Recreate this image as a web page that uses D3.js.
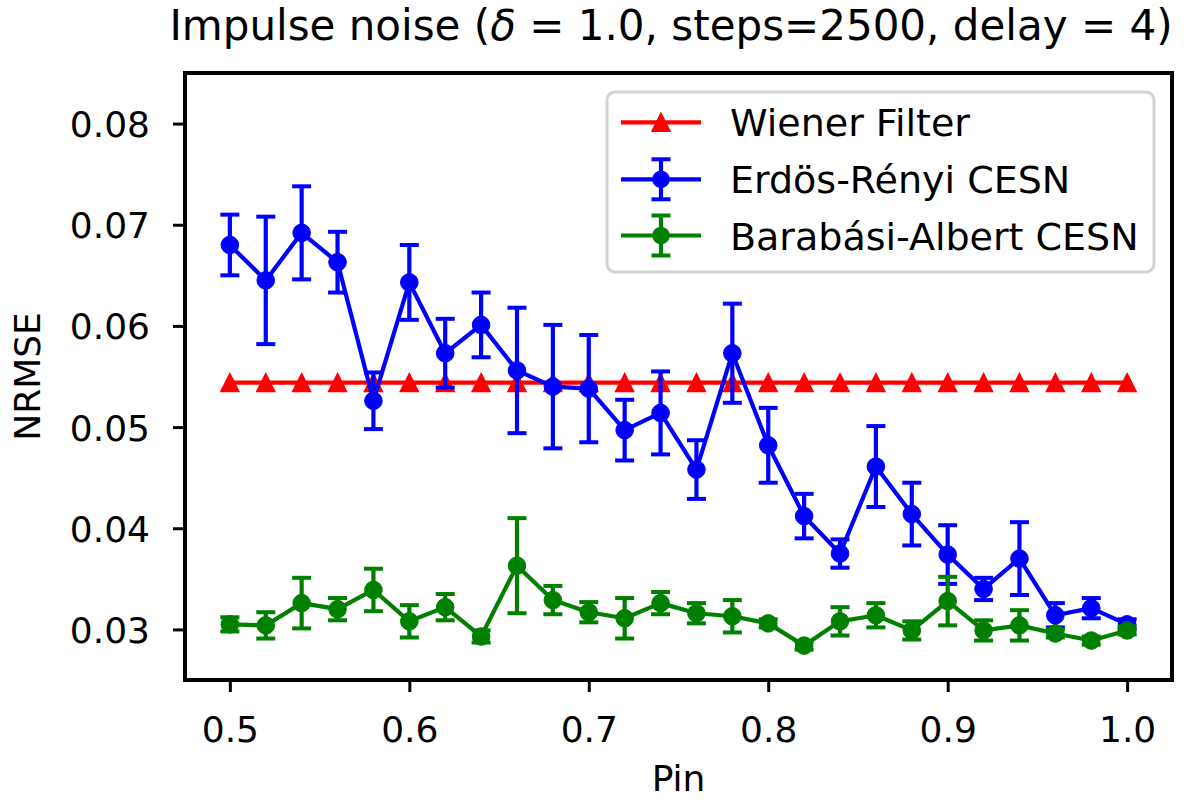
<!DOCTYPE html>
<html>
<head>
<meta charset="utf-8">
<script src="https://cdn.jsdelivr.net/npm/d3@7"></script>
<style>
  html, body { margin: 0; padding: 0; background: #ffffff; }
  svg text { font-family: "DejaVu Sans", sans-serif; }
</style>
</head>
<body>
<svg id="chart" width="1195" height="800"></svg>
<script>
// ---------- DATA ----------
const pins = [0.50, 0.52, 0.54, 0.56, 0.58, 0.60, 0.62, 0.64, 0.66, 0.68,
              0.70, 0.72, 0.74, 0.76, 0.78, 0.80, 0.82, 0.84, 0.86, 0.88,
              0.90, 0.92, 0.94, 0.96, 0.98, 1.00];

const wienerValues = [0.0544, 0.0544, 0.0544, 0.0544, 0.0544, 0.0544, 0.0544, 0.0544, 0.0544, 0.0544,
                      0.0544, 0.0544, 0.0544, 0.0544, 0.0544, 0.0544, 0.0544, 0.0544, 0.0544, 0.0544,
                      0.0544, 0.0544, 0.0544, 0.0544, 0.0544, 0.0544];

const erValues = [0.0680, 0.0645, 0.0692, 0.0663, 0.0526, 0.0643, 0.0573, 0.0601, 0.0556, 0.0540,
                  0.0538, 0.0497, 0.0514, 0.0458, 0.0573, 0.0482, 0.0412, 0.0375, 0.0461, 0.0414,
                  0.0374, 0.0340, 0.0370, 0.0314, 0.0321, 0.0305];
const erErrors = [0.0030, 0.0063, 0.0046, 0.0030, 0.0028, 0.0037, 0.0034, 0.0032, 0.0062, 0.0061,
                  0.0053, 0.0030, 0.0041, 0.0029, 0.0049, 0.0037, 0.0022, 0.0014, 0.0040, 0.0031,
                  0.0029, 0.0011, 0.0036, 0.0012, 0.0010, 0.0005];

const baValues = [0.0305, 0.0304, 0.0326, 0.0320, 0.0339, 0.0308, 0.0322, 0.0293, 0.0363, 0.0329,
                  0.0317, 0.0311, 0.0326, 0.0316, 0.0313, 0.0306, 0.0284, 0.0308, 0.0314, 0.0299,
                  0.0328, 0.0299, 0.0304, 0.0296, 0.0289, 0.0299];
const baErrors = [0.0007, 0.0013, 0.0025, 0.0011, 0.0021, 0.0016, 0.0013, 0.0006, 0.0047, 0.0014,
                  0.0010, 0.0020, 0.0011, 0.0010, 0.0016, 0.0004, 0.0004, 0.0014, 0.0012, 0.0009,
                  0.0024, 0.0010, 0.0015, 0.0004, 0.0004, 0.0004];

const xTicks = [0.5, 0.6, 0.7, 0.8, 0.9, 1.0];
const yTicks = [0.03, 0.04, 0.05, 0.06, 0.07, 0.08];
const seriesNames = ["Wiener Filter", "Erdös-Rényi CESN", "Barabási-Albert CESN"];

// ---------- LAYOUT ----------
const svg = d3.select("#chart");
const L = 185, R = 1172, T = 73, B = 680;
const x = d3.scaleLinear().domain([0.475, 1.025]).range([L, R]);
const y = d3.scaleLinear().domain([0.025, 0.085]).range([B, T]);

const RED = "#ff0000", BLUE = "#0000ff", GREEN = "#008000";
const LW = 4.2, MR = 8.8, CAP = 9.5, TRI = 9;

const triPath = s => `M0,${-s}L${s},${s}L${-s},${s}Z`;

// axes
const xAxis = d3.axisBottom(x).tickValues(xTicks).tickFormat(d3.format(".1f")).tickSize(12);
const yAxis = d3.axisLeft(y).tickValues(yTicks).tickFormat(d3.format(".2f")).tickSize(12);

const gx = svg.append("g").attr("transform", `translate(0,${B})`).call(xAxis);
gx.select(".domain").remove();
gx.selectAll(".tick line").attr("stroke", "#000").attr("stroke-width", 3);
gx.selectAll(".tick text").attr("dy", null).attr("y", 62)
  .attr("font-size", 36).attr("fill", "#000").attr("font-family", "DejaVu Sans");

const gy = svg.append("g").attr("transform", `translate(${L},0)`).call(yAxis);
gy.select(".domain").remove();
gy.selectAll(".tick line").attr("stroke", "#000").attr("stroke-width", 3);
gy.selectAll(".tick text").attr("x", -35).attr("dy", "0.36em")
  .attr("font-size", 36).attr("fill", "#000").attr("font-family", "DejaVu Sans");

// series drawing
const lineGen = vals => d3.line().x((d, i) => x(pins[i])).y(d => y(d))(vals);

// Wiener
const gW = svg.append("g");
gW.append("path").attr("d", lineGen(wienerValues)).attr("fill", "none")
  .attr("stroke", RED).attr("stroke-width", LW);
gW.selectAll("path.m").data(wienerValues).enter().append("path").attr("class", "m")
  .attr("transform", (d, i) => `translate(${x(pins[i])},${y(d)})`)
  .attr("d", triPath(TRI)).attr("fill", RED).attr("stroke", RED).attr("stroke-width", 1.5);

function drawErr(vals, errs, color) {
  const g = svg.append("g");
  g.append("path").attr("d", lineGen(vals)).attr("fill", "none")
    .attr("stroke", color).attr("stroke-width", LW).attr("stroke-linejoin", "round");
  vals.forEach((v, i) => {
    const cx = x(pins[i]);
    const y1 = y(v + errs[i]), y0 = y(v - errs[i]);
    g.append("line").attr("x1", cx).attr("x2", cx).attr("y1", y1).attr("y2", y0)
      .attr("stroke", color).attr("stroke-width", LW);
    [y1, y0].forEach(yy => g.append("line").attr("x1", cx - CAP).attr("x2", cx + CAP)
      .attr("y1", yy).attr("y2", yy).attr("stroke", color).attr("stroke-width", 4));
  });
  g.selectAll("circle").data(vals).enter().append("circle")
    .attr("cx", (d, i) => x(pins[i])).attr("cy", d => y(d)).attr("r", MR)
    .attr("fill", color).attr("stroke", color).attr("stroke-width", 1);
}
drawErr(erValues, erErrors, BLUE);
drawErr(baValues, baErrors, GREEN);

// frame
svg.append("rect").attr("x", L).attr("y", T).attr("width", R - L).attr("height", B - T)
  .attr("fill", "none").attr("stroke", "#000").attr("stroke-width", 4);

// legend
const lg = svg.append("g");
lg.append("rect").attr("x", 607).attr("y", 92).attr("width", 547).attr("height", 180)
  .attr("rx", 8).attr("fill", "#fff").attr("fill-opacity", 0.8)
  .attr("stroke", "#d3d3d3").attr("stroke-width", 3);
const rows = [122.3, 179.3, 235.5];
const cols = [RED, BLUE, GREEN];
rows.forEach((ry, k) => {
  lg.append("line").attr("x1", 621).attr("x2", 701).attr("y1", ry).attr("y2", ry)
    .attr("stroke", cols[k]).attr("stroke-width", LW);
  if (k === 0) {
    lg.append("path").attr("transform", `translate(661,${ry})`).attr("d", triPath(TRI))
      .attr("fill", RED).attr("stroke", RED).attr("stroke-width", 1.5);
  } else {
    lg.append("line").attr("x1", 661).attr("x2", 661).attr("y1", ry - 20).attr("y2", ry + 20)
      .attr("stroke", cols[k]).attr("stroke-width", LW);
    [ry - 20, ry + 20].forEach(yy => lg.append("line").attr("x1", 661 - CAP).attr("x2", 661 + CAP)
      .attr("y1", yy).attr("y2", yy).attr("stroke", cols[k]).attr("stroke-width", 4));
    lg.append("circle").attr("cx", 661).attr("cy", ry).attr("r", MR).attr("fill", cols[k]);
  }
  lg.append("text").attr("x", 730).attr("y", ry + 14).attr("font-size", 38)
    .attr("fill", "#000").text(seriesNames[k]);
});

// title
const title = svg.append("text").attr("x", 671).attr("y", 40)
  .attr("text-anchor", "middle").attr("font-size", 42).attr("fill", "#000");
title.append("tspan").text("Impulse noise (");
title.append("tspan").attr("font-style", "italic").text("δ");
title.append("tspan").text(" = 1.0, steps=2500, delay = 4)");

// axis labels
svg.append("text").attr("x", (L + R) / 2).attr("y", 791).attr("text-anchor", "middle")
  .attr("font-size", 36).attr("fill", "#000").text("Pin");
svg.append("text").attr("transform", `translate(40,${(T + B) / 2}) rotate(-90)`)
  .attr("text-anchor", "middle").attr("font-size", 36).attr("fill", "#000").text("NRMSE");
</script>
</body>
</html>
